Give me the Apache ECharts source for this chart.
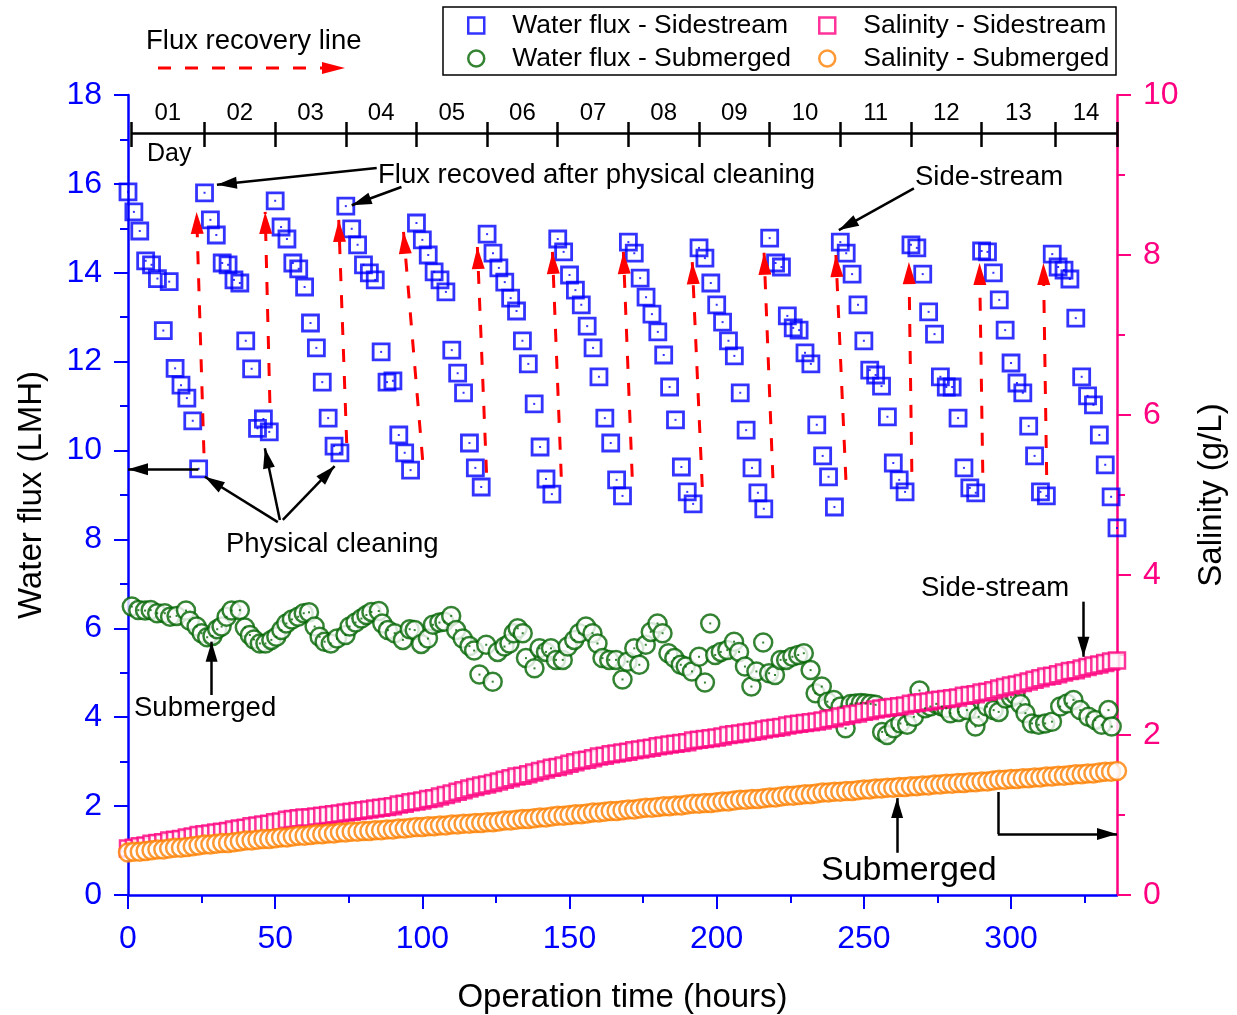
<!DOCTYPE html>
<html><head><meta charset="utf-8">
<script src="https://cdn.jsdelivr.net/npm/echarts@6/dist/echarts.min.js"></script>
<style>html,body{margin:0;padding:0;background:#fff}#c{width:1237px;height:1015px}</style>
</head><body><div id="c"></div>
<script>
// ---------- DATA ----------
const timeHours = [0,2,4,6,8,10,12,14,16,18,20,22,24,26,28,30,32,34,36,38,40,42,44,46,48,50,52,54,56,58,60,62,64,66,68,70,72,74,76,78,80,82,84,86,88,90,92,94,96,98,100,102,104,106,108,110,112,114,116,118,120,122,124,126,128,130,132,134,136,138,140,142,144,146,148,150,152,154,156,158,160,162,164,166,168,170,172,174,176,178,180,182,184,186,188,190,192,194,196,198,200,202,204,206,208,210,212,214,216,218,220,222,224,226,228,230,232,234,236,238,240,242,244,246,248,250,252,254,256,258,260,262,264,266,268,270,272,274,276,278,280,282,284,286,288,290,292,294,296,298,300,302,304,306,308,310,312,314,316,318,320,322,324,326,328,330,332,334,336];
const fluxSide = [
15.82,15.37,14.94,14.27,14.18,13.87,12.70,13.80,11.85,11.47,11.18,10.67,9.59,
15.80,15.19,14.85,14.22,14.18,13.84,13.77,12.47,11.84,10.50,10.71,10.42,
15.62,15.03,14.76,14.22,14.09,13.68,12.87,12.31,11.54,10.73,10.10,9.95,
15.50,14.99,14.63,14.18,14.00,13.84,12.22,11.54,11.57,10.35,9.95,9.56,
15.12,14.74,14.40,14.02,13.84,13.57,12.26,11.74,11.30,10.17,9.61,9.18,
14.87,14.44,14.11,13.79,13.43,13.14,12.47,11.95,11.05,10.08,9.36,9.02,
14.76,14.47,13.95,13.61,13.28,12.80,12.31,11.66,10.73,10.17,9.34,8.98,
14.69,14.44,13.88,13.45,13.07,12.67,12.15,11.43,10.69,9.63,9.07,8.80,
14.56,14.33,13.77,13.28,12.89,12.47,12.13,11.30,10.46,9.61,9.05,8.69,
14.78,14.22,14.13,13.03,12.76,12.71,12.20,11.95,10.58,9.88,9.41,8.73,
14.69,14.44,13.97,13.28,12.47,11.81,11.70,11.45,10.76,9.72,9.34,9.07,
14.63,14.56,13.97,13.12,12.62,11.66,11.43,11.43,10.73,9.61,9.16,9.05,
14.49,14.47,14.00,13.39,12.71,11.97,11.52,11.30,10.55,9.88,9.07,8.98,
14.42,14.13,14.06,13.86,12.98,11.66,11.23,11.03,10.35,9.68,8.96,8.26];
const salSide = [
0.58,0.59,0.61,0.62,0.64,0.65,0.66,0.68,0.69,0.70,0.72,0.73,0.75,
0.76,0.77,0.78,0.79,0.80,0.82,0.83,0.84,0.86,0.87,0.88,0.89,
0.91,0.92,0.94,0.95,0.96,0.97,0.97,0.98,0.99,1.00,1.01,1.02,
1.03,1.04,1.05,1.06,1.07,1.08,1.09,1.10,1.11,1.13,1.14,1.16,
1.17,1.18,1.20,1.21,1.23,1.25,1.27,1.29,1.31,1.33,1.35,1.37,
1.38,1.40,1.42,1.44,1.46,1.48,1.49,1.51,1.53,1.55,1.57,1.59,
1.60,1.62,1.64,1.66,1.68,1.69,1.71,1.73,1.74,1.76,1.77,1.78,
1.79,1.81,1.82,1.83,1.84,1.86,1.87,1.88,1.89,1.90,1.91,1.93,
1.94,1.95,1.96,1.97,1.98,2.00,2.01,2.02,2.03,2.04,2.05,2.07,
2.08,2.09,2.10,2.12,2.13,2.14,2.15,2.16,2.17,2.18,2.20,2.21,
2.23,2.24,2.26,2.27,2.29,2.30,2.32,2.33,2.34,2.35,2.36,2.37,
2.39,2.40,2.41,2.42,2.43,2.44,2.45,2.46,2.47,2.49,2.50,2.51,
2.53,2.54,2.56,2.58,2.60,2.62,2.63,2.65,2.67,2.69,2.71,2.73,
2.74,2.76,2.78,2.80,2.81,2.83,2.85,2.87,2.88,2.90,2.92,2.93];
const salSub = [
0.53,0.54,0.54,0.55,0.56,0.57,0.57,0.58,0.59,0.59,0.60,0.61,0.62,
0.63,0.63,0.64,0.65,0.65,0.66,0.67,0.68,0.68,0.69,0.70,0.70,
0.71,0.72,0.72,0.73,0.74,0.74,0.75,0.76,0.76,0.77,0.77,0.78,
0.78,0.79,0.79,0.80,0.80,0.81,0.81,0.82,0.82,0.83,0.83,0.84,
0.85,0.85,0.86,0.86,0.87,0.87,0.88,0.88,0.89,0.89,0.90,0.90,
0.91,0.91,0.92,0.93,0.93,0.94,0.95,0.95,0.96,0.97,0.97,0.98,
0.99,0.99,1.00,1.01,1.01,1.02,1.03,1.03,1.04,1.05,1.05,1.06,
1.07,1.07,1.08,1.09,1.09,1.10,1.11,1.11,1.12,1.12,1.13,1.14,
1.14,1.15,1.15,1.16,1.17,1.17,1.18,1.19,1.19,1.20,1.20,1.21,
1.22,1.22,1.23,1.24,1.24,1.25,1.26,1.26,1.27,1.28,1.28,1.29,
1.29,1.30,1.30,1.31,1.32,1.32,1.33,1.33,1.34,1.34,1.35,1.35,
1.36,1.36,1.37,1.37,1.38,1.38,1.39,1.39,1.40,1.40,1.41,1.41,
1.42,1.42,1.43,1.44,1.44,1.45,1.45,1.46,1.46,1.47,1.47,1.48,
1.48,1.49,1.49,1.50,1.51,1.51,1.52,1.52,1.53,1.54,1.54,1.55];
const fluxSubTime = [1.3,3.5,5.8,7.7,9.9,12.5,14.3,16.5,19.7,21,23.3,25,26.9,28.7,30.3,31.8,33.5,35.2,38,39.7,41.4,42.8,44.8,46.7,48.7,50.4,52.1,53.8,55.7,57.8,59.7,61.5,63.4,65.1,66.8,68.9,71,73.9,75.3,77.3,79.3,81,82.7,85.2,86.4,88.3,90.6,93.4,95.7,97.4,99.6,101.9,103.6,105.8,107.5,109.8,111.5,113.7,116,117.6,119.4,121.7,123.9,125.6,127.9,129.6,131,132.4,134.1,135.2,138.1,139.8,142,143.7,145.4,147.7,149.4,151.6,153.3,155.6,157.8,159.5,161.2,163.5,165.8,168,169.7,172,173.7,175.9,177.6,179.9,181.6,183.6,185.6,187.8,189.5,191.6,194,196,197.8,199.5,201.4,203.6,205.9,207.6,209.6,211.8,213.5,215.8,217.8,219.8,221.7,223.6,225.7,227.7,229.6,231.9,233.6,235.7,237.6,239.8,242.1,243.8,245.5,247.2,249,250.6,252.3,254,256.2,257.9,260.2,262.4,264.7,267,268.9,270.8,272.6,274.6,276.5,278,279.4,282.2,285,287.9,289,291.8,294.1,295.8,298.1,300,301.5,303.2,304.9,307.1,309.4,311.6,313.9,316.7,319,321.2,323.5,326.3,328.6,330.8,333.1,334.2];
const fluxSub = [6.49,6.41,6.40,6.41,6.34,6.34,6.26,6.28,6.40,6.17,6.04,5.89,5.80,5.83,5.98,6.04,6.26,6.40,6.41,6.02,5.85,5.75,5.66,5.66,5.74,5.81,5.96,6.11,6.20,6.26,6.34,6.36,6.04,5.81,5.70,5.66,5.77,5.85,6.04,6.13,6.22,6.30,6.37,6.39,6.11,5.96,5.89,5.74,5.98,5.96,5.65,5.77,6.08,6.13,6.15,6.28,5.96,5.77,5.60,5.50,4.96,5.63,4.80,5.47,5.59,5.66,5.89,6.00,5.89,5.33,5.10,5.55,5.47,5.55,5.29,5.29,5.59,5.74,5.89,6.04,5.89,5.66,5.33,5.29,5.29,4.85,5.25,5.55,5.18,5.63,5.92,6.11,5.89,5.44,5.33,5.18,5.14,5.03,5.36,4.78,6.11,5.40,5.47,5.51,5.70,5.47,5.14,4.69,5.03,5.68,4.99,4.95,5.29,5.29,5.36,5.40,5.44,5.06,4.54,4.69,4.35,4.39,4.24,3.75,4.30,4.31,4.32,4.31,4.30,4.28,3.67,3.60,3.75,3.86,3.83,4.01,4.60,4.20,4.24,4.30,4.24,4.20,4.09,4.12,4.16,3.79,4.01,4.24,4.16,4.12,4.42,4.45,4.50,4.30,4.09,3.86,3.83,3.86,3.90,4.24,4.31,4.39,4.16,4.01,3.94,3.83,4.16,3.79];

// flux recovery lines: [start (bottom), end (arrow tip)] in [hours, LMH]
const recoveryArrows = [
 [[25.8,9.94],[23.3,15.37]],[[48.2,11.07],[46.6,15.37]],[[74.3,10.17],[71.6,15.19]],
 [[100.1,9.79],[93.6,14.92]],[[121.8,9.50],[118.7,14.58]],[[147.2,9.41],[144.2,14.47]],
 [[171.3,9.41],[168.3,14.47]],[[195.1,9.18],[191.7,14.24]],[[219.1,9.38],[216.1,14.45]],
 [[243.9,9.34],[240.5,14.40]],[[266.3,9.52],[265.3,14.24]],[[290.4,9.50],[289.3,14.22]],
 [[312.1,9.45],[311.0,14.22]]];
// annotation arrows [from, to] in [hours, LMH]
const noteArrows = [
 [[84.5,16.36],[30.2,15.98]],[[92.9,15.93],[76.0,15.52]],
 [[267.0,15.90],[241.5,14.96]],
 [[50.9,8.39],[26.1,9.41]],[[51.6,8.44],[46.5,10.05]],[[52.6,8.44],[70.2,9.65]],
 [[23.9,9.58],[0,9.58]],
 [[28.4,4.50],[28.4,5.70]],
 [[324.6,6.60],[324.6,5.36]],
 [[261.3,0.95],[261.3,2.18]],
 [[295.5,1.37],[336,1.37]]];
const noteLines = [[[295.5,2.32],[295.5,1.37]]];

// day scale drawn inside the top of the plot
const dayLine = [[1,17.145],[336,17.145]];
const dayTicks = [1,26,50,74,98,122,146,170,194,218,242,266,290,315,336];
const dayCenters = [13.5,38,62,86,110,134,158,182,206,230,254,278,302.5,325.5];
const dayLabels = ['01','02','03','04','05','06','07','08','09','10','11','12','13','14'];
const xMajorTicks = [0,50,100,150,200,250,300];

// ---------- STYLE ----------
const FONT = 'Arial, "Liberation Sans", sans-serif';
const BLUE = '#0000FF', GREEN = '#006400', PINK = '#FF0080', ORANGE = '#FF8000', RED = '#FF0000';
const SQUARE = 'path://M0,0L10,0L10,10L0,10Z';
const RED_HEAD = 'path://M-22,-22L-22,-22M22,22L22,22M0,0L6.5,22L-6.5,22Z';
const BLK_HEAD = 'path://M-20,-20L-20,-20M20,20L20,20M0,0L6,20L-6,20Z';

const pairs = (xs, ys) => xs.slice(0, Math.min(xs.length, ys.length)).map((x, i) => [x, ys[i]]);

const chart = echarts.init(document.getElementById('c'), null, {renderer: 'canvas'});

function yAxisCfg(color, min, max, name, pos) {
  return {
    type: 'value', position: pos, min: min, max: max, interval: 2,
    name: name, nameLocation: 'middle', nameGap: pos === 'left' ? 80 : 78, nameRotate: 90,
    nameTextStyle: {color: '#000', fontSize: 33, fontFamily: FONT},
    axisLine: {show: true, onZero: false, lineStyle: {color: color, width: 2.5}},
    axisTick: {show: true, inside: false, length: 14, lineStyle: {color: color, width: 2}},
    minorTick: {show: true, splitNumber: 2, length: 8, lineStyle: {color: color, width: 2}},
    splitLine: {show: false}, minorSplitLine: {show: false},
    axisLabel: {color: color, fontSize: 32, fontFamily: FONT, margin: 26}
  };
}
const txt = (x, y, s, size) => ({type: 'text', x: x, y: y,
  style: {text: s, fontSize: size, fontFamily: FONT, fill: '#000', verticalAlign: 'middle'}});

const option = {
  animation: false,
  backgroundColor: '#fff',
  grid: {left: 128, right: 120, top: 95, bottom: 120, containLabel: false, outerBoundsMode: 'none'},
  legend: [
    {orient: 'vertical', left: 467, top: 12, padding: 0, itemWidth: 62, itemHeight: 16, itemGap: 6,
     selectedMode: false, textStyle: {fontSize: 26.5, color: '#000', fontFamily: FONT},
     data: [{name: 'Water flux - Sidestream', icon: SQUARE, itemStyle: {borderWidth: 2.5}},
            {name: 'Water flux - Submerged', icon: 'circle', itemStyle: {borderWidth: 2.5}}]},
    {orient: 'vertical', left: 818, top: 12, padding: 0, itemWidth: 62, itemHeight: 16, itemGap: 6,
     selectedMode: false, textStyle: {fontSize: 26.5, color: '#000', fontFamily: FONT},
     data: [{name: 'Salinity - Sidestream', icon: SQUARE, itemStyle: {borderWidth: 2.5}},
            {name: 'Salinity - Submerged', icon: 'circle', itemStyle: {borderWidth: 2.5}}]}
  ],
  xAxis: [
    {type: 'value', position: 'bottom', min: 0, max: 336,
     name: 'Operation time (hours)', nameLocation: 'middle', nameGap: 86,
     nameTextStyle: {color: '#000', fontSize: 33, fontFamily: FONT},
     axisLine: {show: true, onZero: false, lineStyle: {color: BLUE, width: 2.5}},
     axisTick: {show: true, inside: false, length: 14, customValues: xMajorTicks, lineStyle: {color: BLUE, width: 2}},
     minorTick: {show: true, splitNumber: 2, length: 8, lineStyle: {color: BLUE, width: 2}},
     axisLabel: {color: BLUE, fontSize: 32, fontFamily: FONT, margin: 28, customValues: xMajorTicks},
     splitLine: {show: false}, minorSplitLine: {show: false}},
    {type: 'value', position: 'top', offset: -52, min: 0, max: 336,
     axisLine: {show: false, onZero: false},
     axisTick: {show: true, inside: false, length: 25, customValues: dayTicks, lineStyle: {color: '#000', width: 2.5}},
     axisLabel: {show: true, color: '#000', fontSize: 24, fontFamily: FONT, margin: 22, customValues: dayCenters,
       formatter: v => { const i = dayCenters.indexOf(v); return i >= 0 ? dayLabels[i] : ''; }},
     splitLine: {show: false}}
  ],
  yAxis: [
    yAxisCfg(BLUE, 0, 18, 'Water flux (LMH)', 'left'),
    yAxisCfg(PINK, 0, 10, 'Salinity (g/L)', 'right')
  ],
  series: [
    {type: 'scatter', name: 'Water flux - Submerged', yAxisIndex: 0, symbol: 'circle', symbolSize: 18, z: 2,
     itemStyle: {color: '#fff', borderColor: GREEN, borderWidth: 2.5}, emphasis: {disabled: true},
     data: pairs(fluxSubTime, fluxSub)},
    {type: 'scatter', name: 'Salinity - Sidestream', yAxisIndex: 1, symbol: 'rect', symbolSize: 16, z: 3,
     itemStyle: {color: '#fff', borderColor: PINK, borderWidth: 2.5}, emphasis: {disabled: true},
     data: pairs(timeHours, salSide)},
    {type: 'scatter', name: 'Salinity - Submerged', yAxisIndex: 1, symbol: 'circle', symbolSize: 18, z: 4,
     itemStyle: {color: '#fff', borderColor: ORANGE, borderWidth: 2.5}, emphasis: {disabled: true},
     data: pairs(timeHours, salSub)},
    {type: 'scatter', name: 'Water flux - Sidestream', yAxisIndex: 0, symbol: 'rect', symbolSize: 16, z: 5,
     itemStyle: {color: 'rgba(255,255,255,0)', borderColor: BLUE, borderWidth: 2.8}, emphasis: {disabled: true},
     data: pairs(timeHours, fluxSide)},
    {type: 'scatter', name: 'dotsBlue', yAxisIndex: 0, symbol: 'rect', symbolSize: 2, z: 6, silent: true,
     itemStyle: {color: BLUE}, data: pairs(timeHours, fluxSide)},
    {type: 'scatter', name: 'dotsGreen', yAxisIndex: 0, symbol: 'rect', symbolSize: 2, z: 6, silent: true,
     itemStyle: {color: GREEN}, data: pairs(fluxSubTime, fluxSub)},
    {type: 'lines', coordinateSystem: 'cartesian2d', xAxisIndex: 0, yAxisIndex: 0, z: 7, silent: true,
     symbol: ['none', RED_HEAD], symbolSize: 44,
     lineStyle: {color: RED, width: 3, type: [13, 14], opacity: 1},
     data: recoveryArrows.map(c => ({coords: c}))},
    {type: 'lines', coordinateSystem: 'cartesian2d', xAxisIndex: 0, yAxisIndex: 0, z: 8, silent: true, clip: false,
     symbol: ['none', BLK_HEAD], symbolSize: 40,
     lineStyle: {color: '#000', width: 2.5, opacity: 1},
     data: noteArrows.map(c => ({coords: c}))},
    {type: 'lines', coordinateSystem: 'cartesian2d', xAxisIndex: 0, yAxisIndex: 0, z: 8, silent: true,
     symbol: 'none', lineStyle: {color: '#000', width: 2.5, opacity: 1},
     data: noteLines.map(c => ({coords: c})).concat([{coords: dayLine}])}
  ],
  graphic: [
    {type: 'rect', shape: {x: 443, y: 7, width: 673, height: 68}, style: {fill: 'none', stroke: '#000', lineWidth: 1.5}, z: 1},
    {type: 'line', shape: {x1: 158, y1: 68, x2: 322, y2: 68}, style: {stroke: RED, lineWidth: 3, lineDash: [13, 14]}},
    {type: 'polygon', shape: {points: [[322, 62], [345, 68], [322, 74]]}, style: {fill: RED}},
    txt(146, 41, 'Flux recovery line', 27.5),
    txt(147, 154, 'Day', 25),
    txt(378, 175, 'Flux recoved after physical cleaning', 27.5),
    txt(915, 177, 'Side-stream', 27.5),
    txt(226, 544, 'Physical cleaning', 27.5),
    txt(134, 708, 'Submerged', 27.5),
    txt(921, 588, 'Side-stream', 27.5),
    txt(821, 871, 'Submerged', 34)
  ]
};
chart.setOption(option);
</script>
</body></html>
